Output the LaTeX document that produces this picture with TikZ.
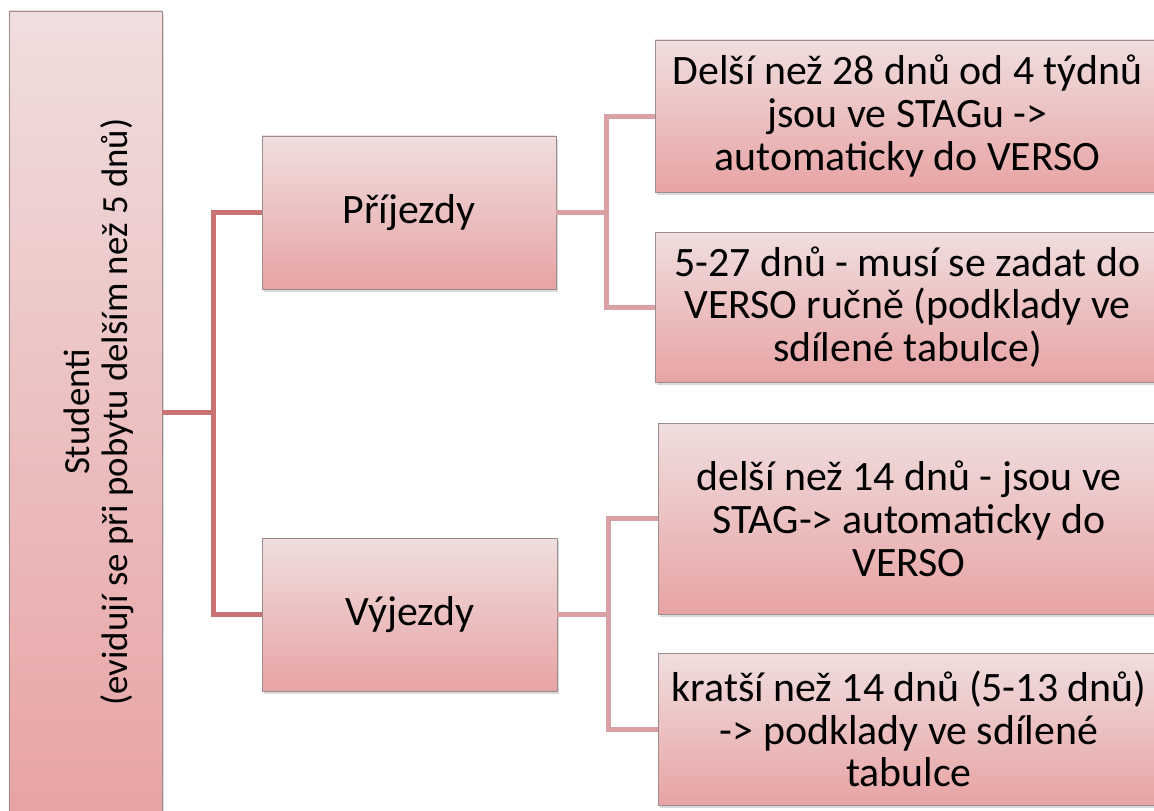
\documentclass[tikz,border=0pt]{standalone}
\usepackage{fontspec}
\setmainfont{Carlito}
\usetikzlibrary{shadows}
\definecolor{topc}{HTML}{F0DEDE}
\definecolor{botc}{HTML}{E8A3A4}
\definecolor{edgec}{HTML}{9C8C8C}
\definecolor{connA}{HTML}{C97273}
\definecolor{connB}{HTML}{D9A1A3}
\newcommand{\bigtxt}{\fontsize{42}{43}\selectfont}
\newcommand{\midtxt}{\fontsize{37}{38}\selectfont}
\tikzset{
  box/.style={draw=edgec, line width=0.8bp, top color=topc, bottom color=botc,
    inner sep=0pt, align=center, font=\bigtxt,
    drop shadow={shadow xshift=1.5bp, shadow yshift=-3bp, opacity=0.3, fill=gray}},
  lvlA/.style={draw=connA, line width=5bp},
  lvlB/.style={draw=connB, line width=5bp},
}
\begin{document}
\begin{tikzpicture}[x=1bp, y=-1bp]
\useasboundingbox (0,0) rectangle (1154,811);
\clip (0,0) rectangle (1154,811);
% boxes
\node[box, minimum width=153bp, minimum height=802bp] (root) at (85.5,412) {};
\node[rotate=90, align=center, font=\midtxt, inner sep=0pt] (roottext) at (99,412)
  {Studenti\\(evidují se při pobytu delším než 5 dnů)};
\node[box, minimum width=294bp, minimum height=153bp] (P) at (409,212.5) {Příjezdy};
\node[box, minimum width=295bp, minimum height=153bp] (V) at (409.5,614.5) {Výjezdy};
\node[box, minimum width=505bp, minimum height=152bp] (A1) at (907.5,116)
  {Delší než 28 dnů od 4 týdnů\\jsou ve STAGu ->\\automaticky do VERSO};
\node[box, minimum width=505bp, minimum height=150bp] (A2) at (907.5,307)
  {5-27 dnů - musí se zadat do\\VERSO ručně (podklady ve\\sdílené tabulce)};
\node[box, minimum width=502bp, minimum height=191bp] (B1) at (909,518.5)
  {delší než 14 dnů - jsou ve\\STAG-> automaticky do\\VERSO};
\node[box, minimum width=502bp, minimum height=152bp] (B2) at (909,729)
  {kratší než 14 dnů (5-13 dnů)\\-> podklady ve sdílené\\tabulce};
% junctions
\coordinate (j1) at (213,412);
\coordinate (j2) at (606,212.5);
\coordinate (j3) at (608,614.5);
% connectors
\draw[lvlA] (root.east) -- (j1);
\draw[lvlA] (P.west) -| (j1) |- (V.west);
\draw[lvlB] (P.east) -- (j2);
\draw[lvlB] (A1.west) -| (j2) |- (A2.west);
\draw[lvlB] (V.east) -- (j3);
\draw[lvlB] (B1.west) -| (j3) |- (B2.west);
\end{tikzpicture}
\end{document}
